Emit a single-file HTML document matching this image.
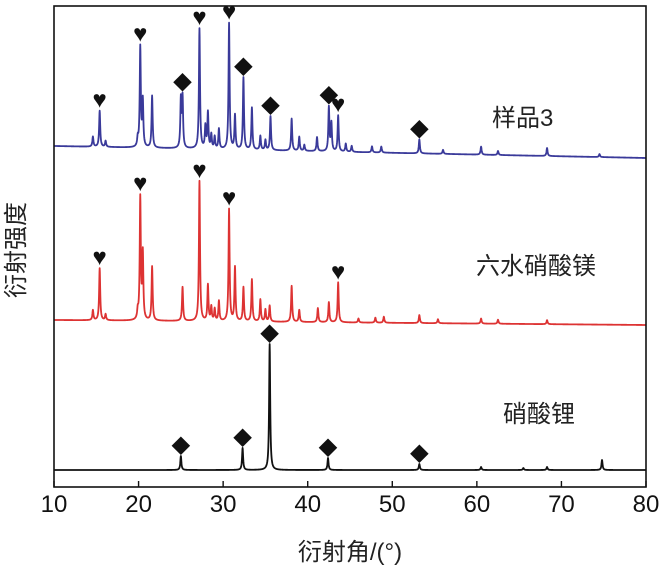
<!DOCTYPE html>
<html><head><meta charset="utf-8"><style>
body{margin:0;background:#fff;}
svg{display:block;font-family:"Liberation Sans","Noto Sans CJK SC",sans-serif;}
</style></head><body>
<svg id="chart" width="665" height="576" viewBox="0 0 665 576"></svg>
<script>
const xTicks=[10,20,30,40,50,60,70,80];
// peaks: position (deg), height (px above baseline)
const bluePos=[14.6,15.4,16.1,19.9,20.2,20.5,21.6,25.0,25.2,27.2,27.9,28.2,28.6,29.0,29.5,30.7,31.4,32.4,33.4,34.4,35.0,35.6,38.1,39.0,39.6,41.1,42.5,42.8,43.6,44.5,45.2,47.6,48.7,53.2,56,60.5,62.5,68.3,74.5];
const blueH=[10,36,6,8,100,46,52,48,50,120,22,36,14,12,20,126,34,72,42,14,10,34,32,14,6,14,44,28,36,8,6,6,6,14,4,8,4,8,3];
const redPos=[14.6,15.4,16.1,19.9,20.2,20.5,21.6,25.2,27.2,28.2,28.6,29.0,29.5,30.7,31.4,32.4,33.4,34.4,35.0,35.5,38.1,39.0,41.2,42.5,43.6,46,48,49,53.2,55.4,60.5,62.5,68.3];
const redH=[10,52,6,8,122,66,54,34,140,36,14,12,20,112,54,34,42,22,12,16,36,12,14,20,40,4,5,6,8,4,5,4,4];
const blackPos=[25.0,32.3,35.5,42.4,53.2,60.5,65.5,68.3,74.8];
const blackH=[14,22,126,12,6,3,2,3,10];
const blueMarks=[[15.4,'h'],[20.2,'h'],[25.2,'d'],[27.2,'h'],[30.7,'h'],[32.4,'d'],[35.6,'d'],[42.5,'d'],[43.6,'h'],[53.2,'d']];
const redMarks=[[15.4,'h'],[20.2,'h'],[27.2,'h'],[30.7,'h'],[43.6,'h']];
const blackMarks=[[25.0,'d'],[32.3,'d'],[35.5,'d'],[42.4,'d'],[53.2,'d']];

const L=54,R=646,T=6,B=487;
const sx=v=>L+(v-10)*(R-L)/70;
const svg=document.getElementById('chart');
const NS='http://www.w3.org/2000/svg';
function mk(t,a){const e=document.createElementNS(NS,t);for(const k in a)e.setAttribute(k,a[k]);svg.appendChild(e);return e;}

function series(pos,h,b0,b1,color,name){
  let d='';
  const prof=v=>{let s=0;for(let i=0;i<pos.length;i++){const g=0.075;const dx=(v-pos[i])/g;s+=h[i]/(1+dx*dx);}return s;};
  for(let v=10;v<=80.001;v+=0.02){
    const base=b0+(b1-b0)*(v-10)/70;
    const y=base-prof(v);
    d+=(d?'L':'M')+sx(v).toFixed(2)+','+y.toFixed(2);
  }
  const p=mk('path',{d:d,fill:'none',stroke:color,'stroke-width':1.8,'stroke-linejoin':'round'});
  
  
  return prof;
}
function marks(list,prof,b0,b1,name){
  list.forEach(m=>{
    const v=m[0];const base=b0+(b1-b0)*(v-10)/70;const y=base-prof(v)-3;
    const t=mk('text',{x:sx(v),y:y,'text-anchor':'middle','font-size':m[1]=='h'?24:19,fill:'#111'});
    t.textContent=m[1]=='h'?'♥':'◆';
    
    
  });
}
const pb=series(bluePos,blueH,146,158,'#3a3a9a','sample3-trace');
const pr=series(redPos,redH,320,325,'#dd3333','mg-nitrate-trace');
const pk=series(blackPos,blackH,470,470,'#111','li-nitrate-trace');
marks(blueMarks,pb,146,158,'sample3-marker');
marks(redMarks,pr,320,325,'mg-nitrate-marker');
marks(blackMarks,pk,470,470,'li-nitrate-marker');

const fr=mk('rect',{x:L,y:T,width:R-L,height:B-T,fill:'none',stroke:'#111','stroke-width':1.6});

xTicks.forEach(v=>{
  const l=mk('line',{x1:sx(v),x2:sx(v),y1:B,y2:B-6,stroke:'#111','stroke-width':1.4});
  
  const t=mk('text',{x:sx(v),y:B+25,'text-anchor':'middle','font-size':24,fill:'#111'});
  t.textContent=v;
  
});
function label(txt,x,y,size,name,extra){const t=mk('text',Object.assign({x:x,y:y,'font-size':size,fill:'#222'},extra||{}));t.textContent=txt;return t;}
label('样品3',492,126,24,'label-sample3');
label('六水硝酸镁',476,274,24,'label-mg-nitrate');
label('硝酸锂',503,422,24,'label-li-nitrate');
label('衍射角/(°)',350,560,24,'x-axis-title',{'text-anchor':'middle'});
label('衍射强度',24,250,24,'y-axis-title',{'text-anchor':'middle',transform:'rotate(-90 24 250)'});
</script>
</body></html>
